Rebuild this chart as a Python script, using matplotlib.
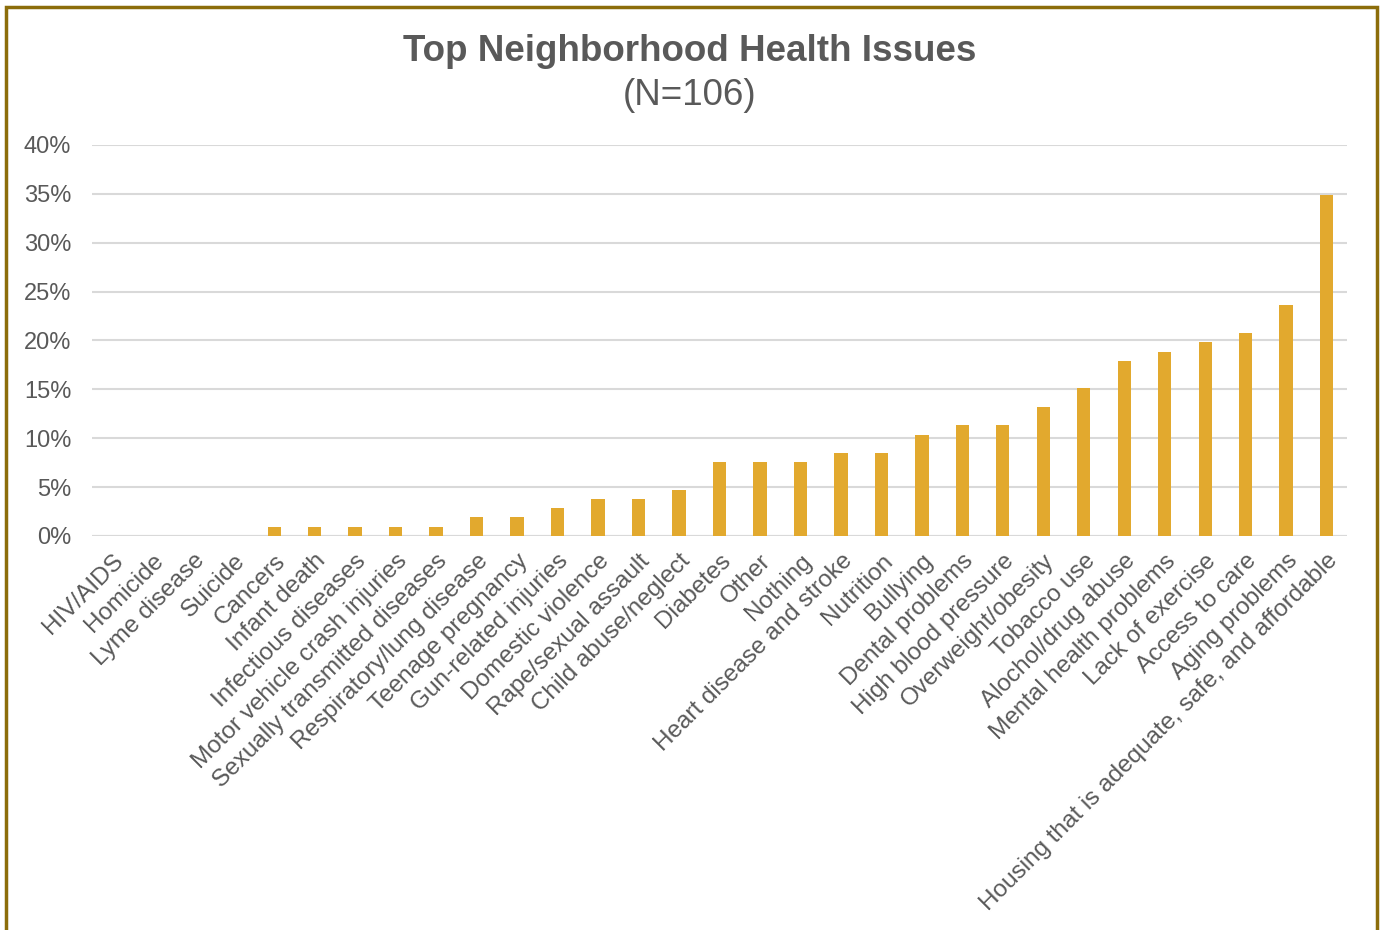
import matplotlib.pyplot as plt
from matplotlib.patches import Rectangle
from matplotlib.ticker import MultipleLocator, PercentFormatter

categories = [
    "HIV/AIDS", "Homicide", "Lyme disease", "Suicide", "Cancers", "Infant death",
    "Infectious diseases", "Motor vehicle crash injuries", "Sexually transmitted diseases",
    "Respiratory/lung disease", "Teenage pregnancy", "Gun-related injuries",
    "Domestic violence", "Rape/sexual assault", "Child abuse/neglect", "Diabetes",
    "Other", "Nothing", "Heart disease and stroke", "Nutrition", "Bullying",
    "Dental problems", "High blood pressure", "Overweight/obesity", "Tobacco use",
    "Alochol/drug abuse", "Mental health problems", "Lack of exercise", "Access to care",
    "Aging problems", "Housing that is adequate, safe, and affordable",
]
# percent of respondents (N=106)
values = [0, 0, 0, 0, 0.94, 0.94, 0.94, 0.94, 0.94, 1.89, 1.89, 2.83, 3.77, 3.77, 4.72,
          7.55, 7.55, 7.55, 8.49, 8.49, 10.38, 11.32, 11.32, 13.21, 15.09, 17.92, 18.87,
          19.81, 20.75, 23.58, 34.91]

text_color = "#595959"
bar_color = "#E2A92E"
grid_color = "#D9D9D9"

plt.rcParams["font.family"] = ["Liberation Sans", "DejaVu Sans"]

fig = plt.figure(figsize=(13.8, 9.3), dpi=100, facecolor="white")
ax = fig.add_axes([0.0667, 0.4237, 0.9093, 0.4204])

x = list(range(len(categories)))
ax.bar(x, values, width=0.33, color=bar_color, zorder=3)

ax.set_xlim(-0.5, len(categories) - 0.5)
ax.set_ylim(0, 40)
ax.yaxis.set_major_locator(MultipleLocator(5))
ax.yaxis.set_major_formatter(PercentFormatter(decimals=0))
ax.grid(axis="y", color=grid_color, linewidth=1.5, zorder=0)
for side in ["top", "right", "left", "bottom"]:
    ax.spines[side].set_visible(False)
ax.axhline(0, color=grid_color, linewidth=1.5, zorder=1)

ax.tick_params(axis="both", length=0, colors=text_color)
ax.tick_params(axis="y", pad=15, labelsize=17)
ax.set_xticks(x)
ax.set_xticklabels(categories, rotation=45, ha="right", rotation_mode="anchor")
ax.tick_params(axis="x", pad=10, labelsize=17.5)

fig.text(0.5, 0.945, "Top Neighborhood Health Issues", ha="center", va="center",
         fontsize=26.5, fontweight="bold", color=text_color)
fig.text(0.5, 0.897, "(N=106)", ha="center", va="center", fontsize=26.5, color=text_color)

# outer frame
fig.patches.append(Rectangle((6 / 1380, -0.05), (1377 - 6) / 1380, 1.05 - 7 / 930,
                             transform=fig.transFigure, fill=False,
                             edgecolor="#8C6D0A", linewidth=2.5))

fig.savefig("out.png", dpi=100, facecolor="white")
